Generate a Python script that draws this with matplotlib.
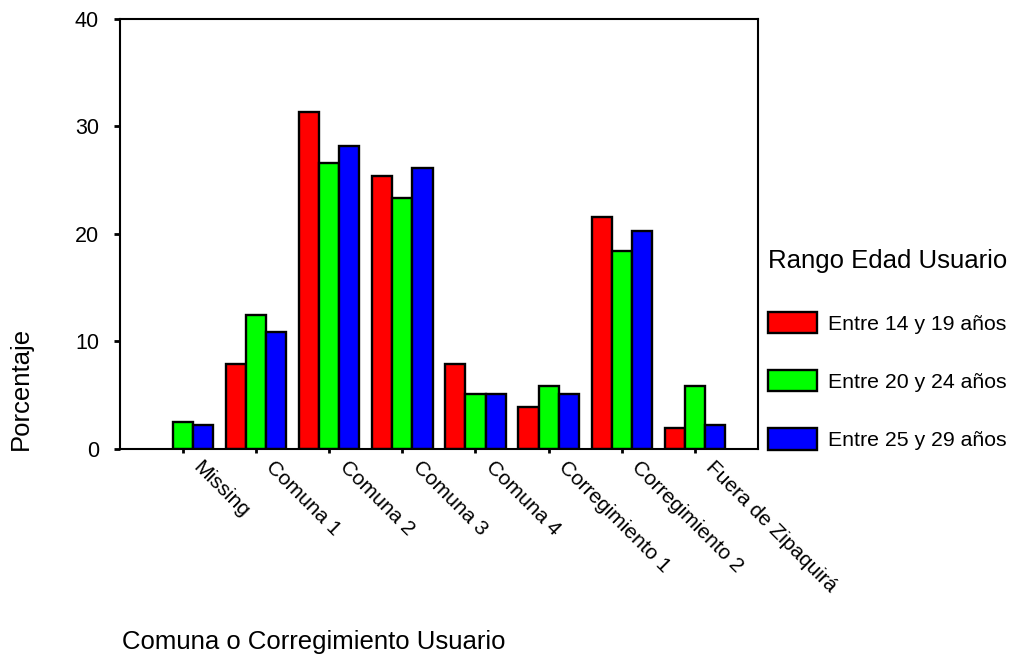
import matplotlib
matplotlib.use("Agg")
import matplotlib.pyplot as plt
import matplotlib.transforms as mtransforms
import numpy as np

# Data (no red bar for "Missing")
categories = ["Missing", "Comuna 1", "Comuna 2", "Comuna 3", "Comuna 4",
              "Corregimiento 1", "Corregimiento 2", "Fuera de Zipaquirá"]
series_names = ["Entre 14 y 19 años", "Entre 20 y 24 años", "Entre 25 y 29 años"]
entre_14_19 = [np.nan, 7.9, 31.3, 25.4, 7.9, 3.9, 21.6, 2.0]
entre_20_24 = [2.5, 12.5, 26.6, 23.3, 5.1, 5.9, 18.4, 5.9]
entre_25_29 = [2.2, 10.9, 28.2, 26.1, 5.1, 5.1, 20.3, 2.2]
colors = ["#ff0000", "#00ff00", "#0000ff"]

plt.rcParams['font.family'] = ['Liberation Sans', 'DejaVu Sans']

fig = plt.figure(figsize=(10.16, 6.56), dpi=100)
ax = fig.add_axes([0.118, 0.3155, 0.628, 0.656])

x = np.arange(len(categories))
width = 0.275
bars = []
for k, (vals, c) in enumerate(zip([entre_14_19, entre_20_24, entre_25_29], colors)):
    b = ax.bar(x + (k - 1) * width, vals, width, color=c, edgecolor='black',
               linewidth=1.7, label=series_names[k])
    bars.append(b)

ax.set_xlim(-0.86, 7.86)
ax.set_ylim(0, 40)
ax.set_yticks([0, 10, 20, 30, 40])
ax.set_xticks(x)
ax.set_xticklabels(categories, rotation=-45, ha='left', va='top',
                   rotation_mode='anchor', fontsize=15)
ax.tick_params(axis='x', length=3, width=2, pad=3)
ax.tick_params(axis='y', length=4, width=2, labelsize=15.5, pad=11)
for s in ax.spines.values():
    s.set_linewidth(1.5)

# shift rotated tick labels to the right like the reference
offset = mtransforms.ScaledTranslation(0.20, 0, fig.dpi_scale_trans)
for lbl in ax.get_xticklabels():
    lbl.set_transform(lbl.get_transform() + offset)

fig.text(0.021, 0.4085, "Porcentaje", rotation=90, ha='center', va='center', fontsize=18.5)
fig.text(0.12, 1 - 649 / 656, "Comuna o Corregimiento Usuario", ha='left',
         va='baseline', fontsize=18.5)

leg = fig.legend(handles=bars, labels=series_names, title="Rango Edad Usuario",
                 loc='upper left', bbox_to_anchor=(0.756, 1 - 249 / 656), frameon=False,
                 fontsize=15.3, title_fontsize=18.5, handlelength=2.3, handleheight=1.15,
                 labelspacing=1.72, handletextpad=0.5, alignment='left',
                 borderaxespad=0, borderpad=0)
leg._legend_box.sep = 28

fig.savefig("out.png", dpi=100)
